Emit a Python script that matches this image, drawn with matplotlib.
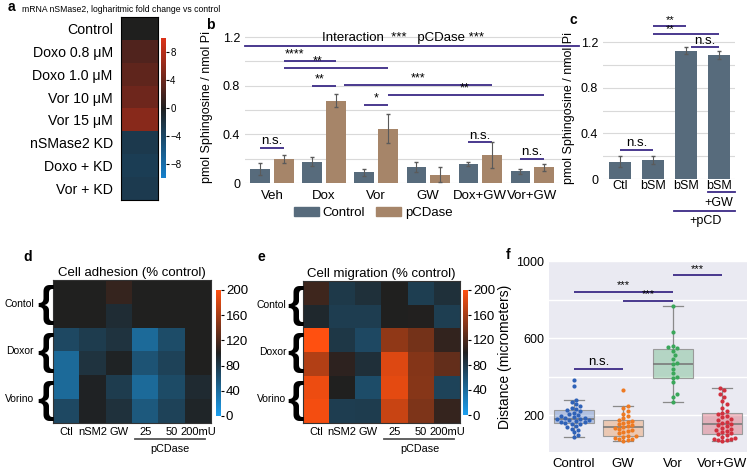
import numpy as np
import matplotlib
matplotlib.use("Agg")
import matplotlib.pyplot as plt
from matplotlib.colors import LinearSegmentedColormap
from matplotlib.patches import Patch

plt.rcParams['font.family'] = ['Liberation Sans', 'DejaVu Sans']

# ---- panel a: nSMase2 mRNA heatmap
a_labels = ["Control", "Doxo 0.8 μM", "Doxo 1.0 μM", "Vor 10 μM", "Vor 15 μM",
            "nSMase2 KD", "Doxo + KD", "Vor + KD"]
a_values = [0.0, 2.6, 3.4, 4.2, 5.6, -2.7, -3.1, -2.8]

# ---- panel b: sphingosine, control vs pCDase
b_groups = ["Veh", "Dox", "Vor", "GW", "Dox+GW", "Vor+GW"]
b_control = [0.115, 0.175, 0.088, 0.129, 0.159, 0.096]
b_control_err = [0.05, 0.035, 0.03, 0.04, 0.017, 0.02]
b_pcdase = [0.20, 0.677, 0.447, 0.068, 0.23, 0.129]
b_pcdase_err = [0.033, 0.055, 0.12, 0.062, 0.11, 0.03]
# (x1, x2, y, label, text x)
b_sig = [(0.23, 1.23, 1.005, "****", 0.44),
         (0.23, 2.23, 0.945, "**", 0.88),
         (0.77, 1.23, 0.80, "**", 0.92),
         (1.38, 4.23, 0.81, "***", 2.8),
         (2.23, 5.23, 0.726, "**", 3.7),
         (1.77, 2.23, 0.644, "*", 2.0),
         (-0.23, 0.23, 0.288, "n.s.", 0.0),
         (3.77, 4.23, 0.334, "n.s.", 4.0),
         (4.77, 5.23, 0.197, "n.s.", 5.0)]

# ---- panel c: bSM +/- pCD
c_labels = ["Ctl", "bSM", "bSM", "bSM"]
c_values = [0.153, 0.168, 1.124, 1.088]
c_err = [0.045, 0.035, 0.03, 0.035]
c_sig = [(1, 2, 1.344, "**", 1.5),
         (1, 3, 1.27, "**", 1.5),
         (2.15, 3, 1.159, "n.s.", 2.55),
         (0, 1, 0.256, "n.s.", 0.5)]

# ---- panels d, e: adhesion / migration heatmaps
de_cols = ["Ctl", "nSM2", "GW", "25", "50", "200mU"]
de_rows = ["Contol", "Doxor", "Vorino"]
d_values = [[100, 100, 110, 100, 100, 100],
            [100, 100, 90, 100, 100, 100],
            [68, 78, 85, 42, 65, 100],
            [42, 85, 97, 60, 73, 100],
            [42, 98, 78, 42, 66, 92],
            [68, 98, 86, 55, 73, 96]]
e_values = [[114, 80, 87, 100, 76, 87],
            [93, 77, 77, 100, 101, 76],
            [200, 82, 68, 150, 138, 108],
            [165, 106, 88, 185, 145, 130],
            [192, 100, 65, 188, 146, 72],
            [195, 77, 78, 175, 142, 110]]

# ---- panel f: migration distance
f_groups = ["Control", "GW", "Vor", "Vor+GW"]
f_control = [89, 100, 112, 122, 132, 140, 147, 153, 158, 161, 165, 168, 171, 174,
             177, 180, 182, 184, 187, 191, 196, 202, 208, 214, 222, 228, 233, 240,
             248, 257, 268, 280, 354, 386]
f_gw = [67, 70, 75, 80, 85, 90, 92, 94, 107, 113, 119, 125, 130, 134, 138, 143,
        148, 154, 160, 165, 170, 176, 184, 195, 208, 222, 236, 251, 333]
f_vor = [272, 298, 312, 372, 395, 398, 420, 442, 468, 470, 493, 512, 535, 548,
         553, 560, 631, 767]
f_vorgw = [68, 70, 72, 76, 80, 85, 90, 96, 103, 108, 113, 118, 124, 130, 137, 144,
           150, 156, 162, 168, 175, 182, 190, 198, 205, 212, 225, 240, 258, 275,
           295, 312, 330, 340]
f_sig = [(0, 2, 841, "***"), (1, 2, 795, "***"), (2, 3, 927, "***"), (0, 1, 439, "n.s.")]

W, H = 750, 471
SIG = "#3b2a86"
fig = plt.figure(figsize=(W / 100, H / 100), dpi=100)


def px_axes(l, t, r, b):
    return fig.add_axes([l / W, 1 - b / H, (r - l) / W, (b - t) / H])


def fig_text(x, y, s, **kw):
    fig.text(x / W, 1 - y / H, s, **kw)


def sig_line(ax, x1, x2, y, label, tx, fs=9, dy=0.02):
    ax.plot([x1, x2], [y, y], color=SIG, lw=1.3, clip_on=False, solid_capstyle="butt")
    ax.text(tx, y + dy, label, ha="center", va="bottom", fontsize=fs, clip_on=False)


# ---------------- a
cmap_a = LinearSegmentedColormap.from_list("a", ["#1580cc", "#1f1f1f", "#dc3218"])
ax = px_axes(121, 17, 158, 200)
im = ax.imshow(np.array(a_values)[:, None], cmap=cmap_a, vmin=-10, vmax=10, aspect="auto")
ax.set_xticks([])
ax.set_yticks(range(len(a_labels)))
ax.set_yticklabels(a_labels, fontsize=10.2)
ax.tick_params(axis="y", length=0, pad=6)
cax = px_axes(161, 38, 166, 178)
cb = fig.colorbar(im, cax=cax, ticks=[8, 4, 0, -4, -8])
cb.outline.set_visible(False)
cax.tick_params(labelsize=7, length=2, pad=1)
fig_text(22, 10, "mRNA nSMase2, logharitmic fold change vs control", fontsize=6.2, va="center")
fig_text(8, 7, "a", fontsize=10, fontweight="bold", va="center")

# ---------------- b
ax = px_axes(245, 31, 568, 183)
x = np.arange(len(b_groups))
ax.bar(x - 0.23, b_control, 0.37, color="#576b7c", zorder=2)
ax.bar(x + 0.23, b_pcdase, 0.37, color="#a68569", zorder=2)
ax.errorbar(x - 0.23, b_control, yerr=b_control_err, fmt="none", ecolor="#5a5a5a",
            elinewidth=0.8, capsize=1.5, zorder=3)
ax.errorbar(x + 0.23, b_pcdase, yerr=b_pcdase_err, fmt="none", ecolor="#5a5a5a",
            elinewidth=0.8, capsize=1.5, zorder=3)
ax.set_xlim(-0.52, 5.69)
ax.set_ylim(0, 1.25)
ax.set_yticks([0, 0.4, 0.8, 1.2])
ax.set_yticklabels(["0", "0.4", "0.8", "1.2"])
ax.set_yticks([0.2, 0.6, 1.0], minor=True)
ax.grid(axis="y", which="both", color="#d9d9d9", lw=0.8, zorder=0)
ax.set_xticks(x)
ax.set_xticklabels(b_groups, fontsize=9.5)
ax.tick_params(axis="both", which="both", length=0, labelsize=9)
ax.tick_params(axis="x", pad=5, labelsize=9.5)
for s in ax.spines.values():
    s.set_visible(False)
ax.set_ylabel("pmol Sphingosine / nmol Pi", fontsize=9, labelpad=7)
for x1, x2, yv, lab, tx in b_sig:
    fs = 9.5 if lab == "n.s." else 9
    sig_line(ax, x1, x2, yv, lab, tx, fs=fs, dy=0.003 if lab != "n.s." else 0.005)
ax.plot([0, 1.035], [1.123, 1.123], color=SIG, lw=1.3, clip_on=False,
        transform=ax.get_yaxis_transform())
ax.text(2.52, 1.145, "Interaction  ***   pCDase ***", ha="center", va="bottom",
        fontsize=9.5)
fig.legend(handles=[Patch(color="#576b7c", label="Control"),
                    Patch(color="#a68569", label="pCDase")],
           loc="center", bbox_to_anchor=(373 / W, 1 - 213 / H), ncol=2, frameon=False,
           fontsize=9.5, handlelength=1.9, handleheight=0.6, columnspacing=0.8,
           handletextpad=0.3)
fig_text(206, 25, "b", fontsize=10, fontweight="bold", va="center")

# ---------------- c
ax = px_axes(603, 36.5, 735, 179)
xc = np.arange(len(c_labels))
ax.bar(xc, c_values, 0.66, color="#576b7c", zorder=2)
ax.errorbar(xc, c_values, yerr=c_err, fmt="none", ecolor="#5a5a5a", elinewidth=0.8,
            capsize=1.5, zorder=3)
ax.set_xlim(-0.52, 3.48)
ax.set_ylim(0, 1.25)
ax.set_yticks([0, 0.4, 0.8, 1.2])
ax.set_yticklabels(["0", "0.4", "0.8", "1.2"])
ax.set_yticks([0.2, 0.6, 1.0], minor=True)
ax.grid(axis="y", which="both", color="#d9d9d9", lw=0.8, zorder=0)
ax.set_xticks(xc)
ax.set_xticklabels(c_labels, fontsize=9)
ax.tick_params(axis="both", which="both", length=0, labelsize=9)
ax.tick_params(axis="x", pad=1)
for s in ax.spines.values():
    s.set_visible(False)
ax.set_ylabel("pmol Sphingosine / nmol Pi", fontsize=9, labelpad=4)
for x1, x2, yv, lab, tx in c_sig:
    fs = 9.5 if lab == "n.s." else 8
    sig_line(ax, x1, x2, yv, lab, tx, fs=fs, dy=0.003)
tr = ax.get_xaxis_transform()
ax.plot([2.67, 3.48], [-0.094, -0.094], color=SIG, lw=1.3, transform=tr, clip_on=False)
ax.text(3.0, -0.165, "+GW", transform=tr, ha="center", va="center", fontsize=9)
ax.plot([1.64, 3.48], [-0.225, -0.225], color=SIG, lw=1.3, transform=tr, clip_on=False)
ax.text(2.58, -0.295, "+pCD", transform=tr, ha="center", va="center", fontsize=9)
fig_text(569, 20, "c", fontsize=10, fontweight="bold", va="center")

# ---------------- d, e
cmap_de = LinearSegmentedColormap.from_list("de", ["#1a9ff0", "#202020", "#ff5010"])


def cell_heatmap(box, cbox, values, title, letter, letter_xy, lab_x, brace_x):
    ax = px_axes(*box)
    im = ax.imshow(np.array(values), cmap=cmap_de, vmin=0, vmax=200, aspect="auto")
    ax.set_xticks(range(len(de_cols)))
    ax.set_xticklabels(de_cols, fontsize=8)
    ax.set_yticks([])
    ax.tick_params(axis="x", length=0, pad=3)
    for s in ax.spines.values():
        s.set_color("#333333")
        s.set_linewidth(0.8)
    ax.set_title(title, fontsize=9.5, pad=3)
    ytr = ax.get_yaxis_transform()
    for i, lab in enumerate(de_rows):
        yc = 2 * i + 0.5
        ax.text(lab_x, yc, lab, transform=ytr, ha="right", va="center", fontsize=7.5)
        ax.text(brace_x, yc + 0.06, "{", transform=ytr, ha="center", va="center",
                fontsize=31, fontweight="bold", family="Liberation Sans", clip_on=False)
    xtr = ax.get_xaxis_transform()
    ax.plot([2.6, 5.28], [-0.115, -0.115], color="#555555", lw=1.3, transform=xtr,
            clip_on=False)
    ax.text(3.95, -0.185, "pCDase", transform=xtr, ha="center", va="center", fontsize=7.8)
    cax = px_axes(*cbox)
    cb = fig.colorbar(im, cax=cax, ticks=[0, 40, 80, 120, 160, 200])
    cb.outline.set_visible(False)
    cax.tick_params(labelsize=9.5, length=2.5, pad=1)
    fig_text(letter_xy[0], letter_xy[1], letter, fontsize=10, fontweight="bold",
             va="center")


cell_heatmap((53, 280, 211, 423), (216, 290, 221, 416), d_values,
             "Cell adhesion (% control)", "d", (23, 257), -0.12, -0.045)
cell_heatmap((303, 281, 460, 423), (463, 290, 468, 415), e_values,
             "Cell migration (% control)", "e", (258, 257), -0.105, -0.045)

# ---------------- f
f_colors = ["#2f62b8", "#ee7a22", "#3aa75a", "#d2303e"]
f_data = [f_control, f_gw, f_vor, f_vorgw]
ax = px_axes(549, 261, 747, 452)
ax.set_facecolor("#eaeaf2")
ax.set_xlim(-0.5, 3.5)
ax.set_ylim(10, 1002)
ax.set_yticks([200, 600, 1000])
ax.set_yticks([400, 800], minor=True)
ax.grid(axis="y", which="both", color="white", lw=1, zorder=0)
ax.set_axisbelow(True)
for s in ax.spines.values():
    s.set_visible(False)
bp = ax.boxplot(f_data, positions=range(4), widths=0.8, patch_artist=True,
                showfliers=False, whis=1.5, zorder=2)
for patch, col in zip(bp["boxes"], f_colors):
    patch.set_facecolor(matplotlib.colors.to_rgba(col, 0.3))
    patch.set_edgecolor("#9a9a9a")
    patch.set_linewidth(0.8)
for key in ("whiskers", "caps"):
    for ln in bp[key]:
        ln.set_color("#8a8a8a")
        ln.set_linewidth(0.9)
for ln in bp["medians"]:
    ln.set_color("#7a7a7a")
    ln.set_linewidth(1.2)

# simple beeswarm in pixel space
px_per_x = 198 / 4.0
px_per_y = 191 / 992.0
diam = 4.3


def swarm_x(values):
    vals = np.asarray(values, dtype=float)
    placed = []
    out = np.zeros(len(vals))
    for i in np.argsort(vals):
        yp = vals[i] * px_per_y
        k = 0
        while True:
            cands = [0.0] if k == 0 else [k * diam * 0.5, -k * diam * 0.5]
            ok = None
            for c in cands:
                if all((c - a) ** 2 + (yp - b) ** 2 >= (diam * 0.95) ** 2 for a, b in placed):
                    ok = c
                    break
            if ok is not None:
                break
            k += 1
        placed.append((ok, yp))
        out[i] = ok / px_per_x
    return out


for i, (vals, col) in enumerate(zip(f_data, f_colors)):
    ax.scatter(i + swarm_x(vals), vals, s=9, color=col, zorder=3, linewidths=0)
ax.set_xticks(range(4))
ax.set_xticklabels(f_groups, fontsize=9.5)
ax.tick_params(axis="both", which="both", length=0, labelsize=9)
ax.tick_params(axis="x", pad=4, labelsize=9.5)
ax.set_ylabel("Distance (micrometers)", fontsize=10, labelpad=3)
for x1, x2, yv, lab in f_sig:
    fs = 9.5 if lab == "n.s." else 8
    sig_line(ax, x1, x2, yv, lab, (x1 + x2) / 2, fs=fs, dy=8)
fig_text(506, 255, "f", fontsize=10, fontweight="bold", va="center")

fig.savefig("out.png", dpi=100)
